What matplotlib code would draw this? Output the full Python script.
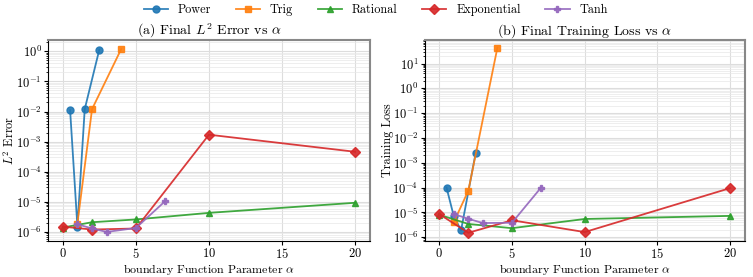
import matplotlib
matplotlib.use("Agg")
import matplotlib.pyplot as plt
from matplotlib.ticker import LogLocator, NullFormatter

plt.rcParams['font.family'] = ['cmr10', 'DejaVu Serif']
plt.rcParams['mathtext.fontset'] = 'cm'
plt.rcParams['axes.formatter.use_mathtext'] = True
plt.rcParams['axes.unicode_minus'] = False

names = ["Power", "Trig", "Rational", "Exponential", "Tanh"]
colors = ["#1f77b4", "#ff7f0e", "#2ca02c", "#d62728", "#9467bd"]
markers = ["o", "s", "^", "D", "P"]

power_x = [0.5, 1, 1.5, 2.5]
power_l2 = [1.1e-2, 1.5e-6, 1.2e-2, 1.15]
power_loss = [1.0e-4, 7e-6, 1.9e-6, 2.4e-3]

trig_x = [1, 2, 4]
trig_l2 = [1.9e-6, 1.2e-2, 1.2]
trig_loss = [4.0e-6, 7.5e-5, 44.0]

rational_x = [0, 2, 5, 10, 20]
rational_l2 = [1.4e-6, 2.1e-6, 2.6e-6, 4.3e-6, 9.3e-6]
rational_loss = [8.0e-6, 3.4e-6, 2.3e-6, 5.4e-6, 7.2e-6]

exp_x = [0, 2, 5, 10, 20]
exp_l2 = [1.5e-6, 1.2e-6, 1.3e-6, 1.7e-3, 4.6e-4]
exp_loss = [8.5e-6, 1.5e-6, 4.8e-6, 1.6e-6, 9.5e-5]

tanh_x = [1, 2, 3, 5, 7]
tanh_l2 = [1.8e-6, 1.3e-6, 1.0e-6, 1.35e-6, 1.05e-5]
tanh_loss = [8.5e-6, 5.5e-6, 3.7e-6, 3.8e-6, 1.0e-4]

xs = [power_x, trig_x, rational_x, exp_x, tanh_x]
l2s = [power_l2, trig_l2, rational_l2, exp_l2, tanh_l2]
losses = [power_loss, trig_loss, rational_loss, exp_loss, tanh_loss]

fig = plt.figure(figsize=(7.53, 2.77), dpi=100)
ax1 = fig.add_axes([0.064, 0.130, 0.427, 0.726])
ax2 = fig.add_axes([0.564, 0.130, 0.425, 0.726])

for ax, ys in ((ax1, l2s), (ax2, losses)):
    for name, c, m, x, y in zip(names, colors, markers, xs, ys):
        ax.plot(x, y, color=c, marker=m, markersize=5, lw=1.3, label=name,
                markerfacecolor=c, markeredgecolor=c, alpha=0.9)
    ax.set_yscale('log')
    ax.yaxis.set_major_locator(LogLocator(base=10, numticks=20))
    ax.yaxis.set_minor_locator(LogLocator(base=10, subs=[i / 10 for i in range(1, 10)], numticks=100))
    ax.yaxis.set_minor_formatter(NullFormatter())
    ax.grid(True, which='major', color='#dddddd', lw=0.8)
    ax.grid(True, which='minor', axis='y', color='#e8e8e8', lw=0.5)
    ax.set_axisbelow(True)
    ax.set_xticks([0, 5, 10, 15, 20])
    ax.set_xlim(-1, 21)
    ax.tick_params(labelsize=9, length=3, pad=1.5)
    ax.tick_params(axis='x', pad=1)
    ax.tick_params(which='minor', length=1.5)
    for s in ('top', 'right'):
        ax.spines[s].set_color('#888888')
        ax.spines[s].set_linewidth(1.5)
    ax.set_xlabel(r"boundary Function Parameter $\alpha$", fontsize=8.6)
    ax.xaxis.set_label_coords(0.5, -0.103)

ax1.set_ylim(5e-7, 2.4)
ax2.set_ylim(7e-7, 9e1)
ax1.set_ylabel(r"$L^2$ Error", fontsize=8.8)
ax2.set_ylabel("Training Loss", fontsize=8.8)
ax1.yaxis.set_label_coords(-0.097, 0.5)
ax2.yaxis.set_label_coords(-0.097, 0.5)
ax1.set_title(r"(a) Final $L^2$ Error vs $\alpha$", fontsize=10, pad=2)
ax2.set_title(r"(b) Final Training Loss vs $\alpha$", fontsize=10, pad=2)

handles, labels = ax1.get_legend_handles_labels()
fig.legend(handles, labels, loc='upper center', ncol=5, frameon=False,
           fontsize=8.8, bbox_to_anchor=(0.499, 1.025), columnspacing=2.0,
           handlelength=2.0, handletextpad=0.8)

fig.savefig("out.png", dpi=100)
